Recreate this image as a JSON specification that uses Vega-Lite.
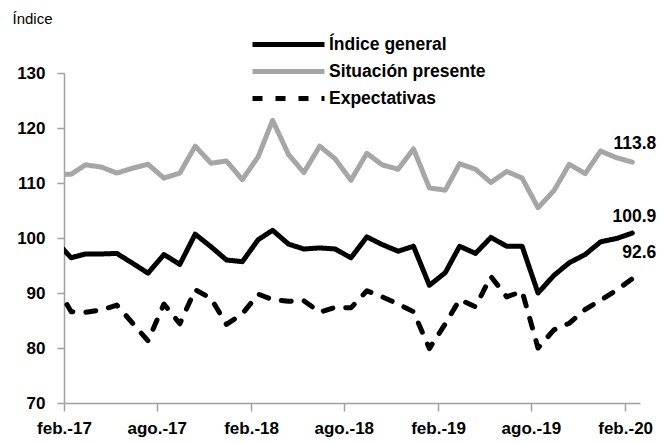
{
  "$schema": "https://vega.github.io/schema/vega-lite/v6.json",
  "width": 576,
  "height": 330,
  "autosize": {"type": "none"},
  "padding": {"left": 64, "top": 73, "right": 24, "bottom": 41},
  "background": "white",
  "config": {"view": {"stroke": null}, "font": "Liberation Sans, Arial, sans-serif"},
  "data": {
    "values": [
      {"mes": "2017-01-15", "Índice general": 99.5, "Situación presente": 111.5, "Expectativas": 91.5},
      {"mes": "2017-02-15", "Índice general": 96.4, "Situación presente": 111.6, "Expectativas": 86.6},
      {"mes": "2017-03-15", "Índice general": 97.1, "Situación presente": 113.3, "Expectativas": 86.5},
      {"mes": "2017-04-15", "Índice general": 97.1, "Situación presente": 112.9, "Expectativas": 86.9},
      {"mes": "2017-05-15", "Índice general": 97.2, "Situación presente": 111.8, "Expectativas": 87.8},
      {"mes": "2017-06-15", "Índice general": 95.4, "Situación presente": 112.7, "Expectativas": 84.5},
      {"mes": "2017-07-15", "Índice general": 93.6, "Situación presente": 113.4, "Expectativas": 81.3},
      {"mes": "2017-08-15", "Índice general": 97.0, "Situación presente": 110.9, "Expectativas": 88.0},
      {"mes": "2017-09-15", "Índice general": 95.2, "Situación presente": 111.8, "Expectativas": 84.4},
      {"mes": "2017-10-15", "Índice general": 100.7, "Situación presente": 116.7, "Expectativas": 90.6},
      {"mes": "2017-11-15", "Índice general": 98.4, "Situación presente": 113.6, "Expectativas": 89.0},
      {"mes": "2017-12-15", "Índice general": 96.0, "Situación presente": 114.0, "Expectativas": 84.3},
      {"mes": "2018-01-15", "Índice general": 95.7, "Situación presente": 110.6, "Expectativas": 86.2},
      {"mes": "2018-02-15", "Índice general": 99.7, "Situación presente": 114.8, "Expectativas": 89.8},
      {"mes": "2018-03-15", "Índice general": 101.4, "Situación presente": 121.4, "Expectativas": 88.8},
      {"mes": "2018-04-15", "Índice general": 98.9, "Situación presente": 115.2, "Expectativas": 88.5},
      {"mes": "2018-05-15", "Índice general": 98.0, "Situación presente": 111.9, "Expectativas": 88.6},
      {"mes": "2018-06-15", "Índice general": 98.2, "Situación presente": 116.7, "Expectativas": 86.5},
      {"mes": "2018-07-15", "Índice general": 98.0, "Situación presente": 114.4, "Expectativas": 87.4},
      {"mes": "2018-08-15", "Índice general": 96.4, "Situación presente": 110.5, "Expectativas": 87.3},
      {"mes": "2018-09-15", "Índice general": 100.2, "Situación presente": 115.4, "Expectativas": 90.4},
      {"mes": "2018-10-15", "Índice general": 98.8, "Situación presente": 113.3, "Expectativas": 89.3},
      {"mes": "2018-11-15", "Índice general": 97.6, "Situación presente": 112.5, "Expectativas": 88.0},
      {"mes": "2018-12-15", "Índice general": 98.5, "Situación presente": 116.2, "Expectativas": 86.6},
      {"mes": "2019-01-15", "Índice general": 91.4, "Situación presente": 109.1, "Expectativas": 79.9},
      {"mes": "2019-02-15", "Índice general": 93.7, "Situación presente": 108.7, "Expectativas": 84.4},
      {"mes": "2019-03-15", "Índice general": 98.5, "Situación presente": 113.5, "Expectativas": 88.8},
      {"mes": "2019-04-15", "Índice general": 97.2, "Situación presente": 112.5, "Expectativas": 87.5},
      {"mes": "2019-05-15", "Índice general": 100.1, "Situación presente": 110.1, "Expectativas": 93.0},
      {"mes": "2019-06-15", "Índice general": 98.5, "Situación presente": 112.1, "Expectativas": 89.3},
      {"mes": "2019-07-15", "Índice general": 98.5, "Situación presente": 110.9, "Expectativas": 90.3},
      {"mes": "2019-08-15", "Índice general": 90.0, "Situación presente": 105.5, "Expectativas": 80.0},
      {"mes": "2019-09-15", "Índice general": 93.2, "Situación presente": 108.6, "Expectativas": 83.3},
      {"mes": "2019-10-15", "Índice general": 95.5, "Situación presente": 113.4, "Expectativas": 84.5},
      {"mes": "2019-11-15", "Índice general": 97.0, "Situación presente": 111.7, "Expectativas": 87.0},
      {"mes": "2019-12-15", "Índice general": 99.3, "Situación presente": 115.8, "Expectativas": 88.7},
      {"mes": "2020-01-15", "Índice general": 99.9, "Situación presente": 114.6, "Expectativas": 90.5},
      {"mes": "2020-02-15", "Índice general": 100.9, "Situación presente": 113.8, "Expectativas": 92.6}
    ]
  },
  "transform": [
    {"fold": ["Índice general", "Situación presente", "Expectativas"], "as": ["serie", "valor"]}
  ],
  "encoding": {
    "x": {
      "field": "mes",
      "type": "temporal",
      "scale": {
        "type": "utc",
        "domain": [
          {"year": 2017, "month": 2, "date": 1, "utc": true},
          {"year": 2020, "month": 3, "date": 1, "utc": true}
        ]
      },
      "axis": {
        "title": null,
        "values": [
          {"year": 2017, "month": 2, "date": 1, "utc": true},
          {"year": 2017, "month": 8, "date": 1, "utc": true},
          {"year": 2018, "month": 2, "date": 1, "utc": true},
          {"year": 2018, "month": 8, "date": 1, "utc": true},
          {"year": 2019, "month": 2, "date": 1, "utc": true},
          {"year": 2019, "month": 8, "date": 1, "utc": true},
          {"year": 2020, "month": 2, "date": 1, "utc": true}
        ],
        "labelExpr": "(utcmonth(datum.value) == 1 ? 'feb.-' : 'ago.-') + utcFormat(datum.value, '%y')",
        "grid": false,
        "domainColor": "#a0a0a0",
        "domainWidth": 1.5,
        "tickColor": "#a0a0a0",
        "tickWidth": 1.5,
        "tickSize": 8,
        "labelFont": "Liberation Sans, Arial, sans-serif",
        "labelFontWeight": "bold",
        "labelFontSize": 17,
        "labelColor": "black",
        "labelPadding": 9,
        "labelFlush": false,
        "labelOverlap": false
      }
    },
    "y": {
      "field": "valor",
      "type": "quantitative",
      "scale": {"domain": [70, 130], "nice": false, "zero": false},
      "axis": {
        "title": "Índice",
        "titleAngle": 0,
        "titleAlign": "left",
        "titleBaseline": "alphabetic",
        "titleX": -52,
        "titleY": -50,
        "titleFont": "Liberation Sans, Arial, sans-serif",
        "titleFontWeight": "normal",
        "titleFontSize": 15,
        "titleColor": "black",
        "values": [70, 80, 90, 100, 110, 120, 130],
        "grid": false,
        "domainColor": "#a0a0a0",
        "domainWidth": 1.5,
        "tickColor": "#a0a0a0",
        "tickWidth": 1.5,
        "tickSize": 7,
        "labelFont": "Liberation Sans, Arial, sans-serif",
        "labelFontWeight": "bold",
        "labelFontSize": 17,
        "labelColor": "black",
        "labelPadding": 12
      }
    }
  },
  "layer": [
    {
      "mark": {"type": "line", "strokeWidth": 5, "strokeCap": "round", "strokeJoin": "round", "clip": true},
      "encoding": {
        "color": {
          "field": "serie",
          "type": "nominal",
          "scale": {
            "domain": ["Índice general", "Situación presente", "Expectativas"],
            "range": ["#000000", "#a6a6a6", "#000000"]
          },
          "legend": {
            "title": null,
            "orient": "none",
            "legendX": 210,
            "legendY": -43,
            "direction": "vertical",
            "symbolType": "M-3,0H3",
            "symbolSize": 576,
            "symbolStrokeWidth": 5,
            "labelFont": "Liberation Sans, Arial, sans-serif",
            "labelFontWeight": "bold",
            "labelFontSize": 17.5,
            "labelColor": "black",
            "labelOffset": 26,
            "labelLimit": 400,
            "rowPadding": 2,
            "padding": 0
          }
        },
        "strokeDash": {
          "field": "serie",
          "type": "nominal",
          "scale": {
            "domain": ["Índice general", "Situación presente", "Expectativas"],
            "range": [[1, 0], [1, 0], [10, 13]]
          },
          "legend": {
            "title": null,
            "orient": "none",
            "legendX": 210,
            "legendY": -43,
            "direction": "vertical",
            "symbolType": "M-3,0H3",
            "symbolSize": 576,
            "symbolStrokeWidth": 5,
            "labelFont": "Liberation Sans, Arial, sans-serif",
            "labelFontWeight": "bold",
            "labelFontSize": 17.5,
            "labelColor": "black",
            "labelOffset": 26,
            "labelLimit": 400,
            "rowPadding": 2,
            "padding": 0
          }
        }
      }
    },
    {
      "transform": [
        {"filter": {"field": "serie", "equal": "Situación presente"}},
        {"filter": {"field": "mes", "equal": {"year": 2020, "month": 2, "date": 15, "utc": true}}}
      ],
      "mark": {"type": "text", "align": "right", "baseline": "middle", "dx": 24, "dy": -18, "font": "Liberation Sans, Arial, sans-serif", "fontWeight": "bold", "fontSize": 17.5, "color": "black"},
      "encoding": {"text": {"field": "valor", "type": "quantitative", "format": ".1f"}}
    },
    {
      "transform": [
        {"filter": {"field": "serie", "equal": "Índice general"}},
        {"filter": {"field": "mes", "equal": {"year": 2020, "month": 2, "date": 15, "utc": true}}}
      ],
      "mark": {"type": "text", "align": "right", "baseline": "middle", "dx": 24, "dy": -16, "font": "Liberation Sans, Arial, sans-serif", "fontWeight": "bold", "fontSize": 17.5, "color": "black"},
      "encoding": {"text": {"field": "valor", "type": "quantitative", "format": ".1f"}}
    },
    {
      "transform": [
        {"filter": {"field": "serie", "equal": "Expectativas"}},
        {"filter": {"field": "mes", "equal": {"year": 2020, "month": 2, "date": 15, "utc": true}}}
      ],
      "mark": {"type": "text", "align": "right", "baseline": "middle", "dx": 24, "dy": -26, "font": "Liberation Sans, Arial, sans-serif", "fontWeight": "bold", "fontSize": 17.5, "color": "black"},
      "encoding": {"text": {"field": "valor", "type": "quantitative", "format": ".1f"}}
    }
  ]
}
